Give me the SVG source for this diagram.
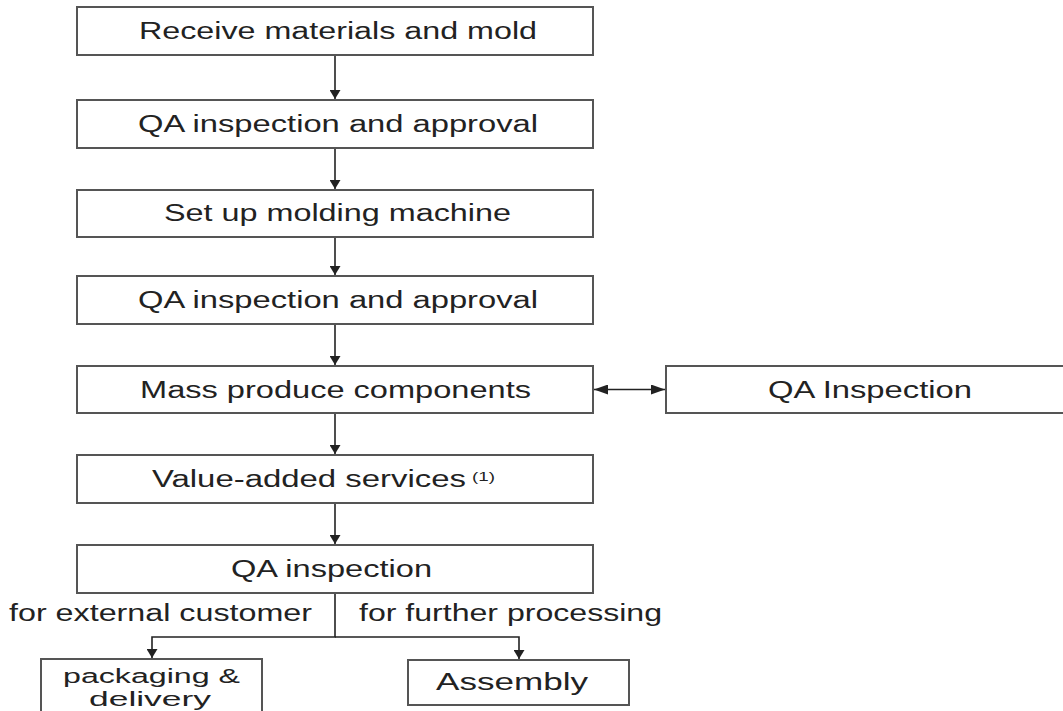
<svg xmlns="http://www.w3.org/2000/svg" width="1063" height="711" viewBox="0 0 1063 711">
  <style>
    .box { fill: #ffffff; stroke: #555555; stroke-width: 2; }
    .lbl { font-family: "Liberation Sans", Arial, Helvetica, sans-serif; font-size: 23px; fill: #222222; }
    .lbl2 { font-family: "Liberation Sans", Arial, Helvetica, sans-serif; font-size: 20px; fill: #222222; }
    .sup { font-family: "Liberation Sans", Arial, Helvetica, sans-serif; font-size: 13px; fill: #222222; }
    .conn { fill: none; stroke: #222222; stroke-width: 1.6; }
  </style>
  <defs>
    <marker id="av" markerUnits="userSpaceOnUse" markerWidth="9" markerHeight="11" refX="9" refY="5.5" orient="auto">
      <path d="M0,0 L9,5.5 L0,11 z" fill="#222222"/>
    </marker>
    <marker id="ah" markerUnits="userSpaceOnUse" markerWidth="14" markerHeight="10" refX="14" refY="5" orient="auto-start-reverse">
      <path d="M0,0 L14,5 L0,10 z" fill="#222222"/>
    </marker>
  </defs>
  <rect width="1063" height="711" fill="#ffffff"/>

  <g id="connectors">
    <line class="conn" x1="335" y1="55" x2="335" y2="99" marker-end="url(#av)"/>
    <line class="conn" x1="335" y1="148" x2="335" y2="189" marker-end="url(#av)"/>
    <line class="conn" x1="335" y1="237" x2="335" y2="275" marker-end="url(#av)"/>
    <line class="conn" x1="335" y1="324" x2="335" y2="365" marker-end="url(#av)"/>
    <line class="conn" x1="335" y1="413" x2="335" y2="454" marker-end="url(#av)"/>
    <line class="conn" x1="335" y1="503" x2="335" y2="544" marker-end="url(#av)"/>
    <line class="conn" x1="594" y1="389.5" x2="665" y2="389.5" marker-start="url(#ah)" marker-end="url(#ah)"/>
    <polyline class="conn" points="335,593 335,637 152,637 152,658" marker-end="url(#av)"/>
    <polyline class="conn" points="335,637 519,637 519,659" marker-end="url(#av)"/>
  </g>

  <g id="n1">
    <rect class="box" x="77" y="7" width="516" height="48"/>
    <text class="lbl" x="139" y="39" textLength="398" lengthAdjust="spacingAndGlyphs">Receive materials and mold</text>
  </g>
  <g id="n2">
    <rect class="box" x="77" y="100" width="516" height="48"/>
    <text class="lbl" x="138" y="132" textLength="400" lengthAdjust="spacingAndGlyphs">QA inspection and approval</text>
  </g>
  <g id="n3">
    <rect class="box" x="77" y="190" width="516" height="47"/>
    <text class="lbl" x="164" y="221" textLength="347" lengthAdjust="spacingAndGlyphs">Set up molding machine</text>
  </g>
  <g id="n4">
    <rect class="box" x="77" y="276" width="516" height="48"/>
    <text class="lbl" x="138" y="308" textLength="400" lengthAdjust="spacingAndGlyphs">QA inspection and approval</text>
  </g>
  <g id="n5">
    <rect class="box" x="77" y="366" width="516" height="47"/>
    <text class="lbl" x="140" y="398" textLength="391" lengthAdjust="spacingAndGlyphs">Mass produce components</text>
  </g>
  <g id="n5b">
    <rect class="box" x="666" y="366" width="410" height="47"/>
    <text class="lbl" x="768" y="398" textLength="204" lengthAdjust="spacingAndGlyphs">QA Inspection</text>
  </g>
  <g id="n6">
    <rect class="box" x="77" y="455" width="516" height="48"/>
    <text class="lbl" x="152" y="487" textLength="314" lengthAdjust="spacingAndGlyphs">Value-added services</text>
    <text class="sup" x="472" y="481" textLength="23" lengthAdjust="spacingAndGlyphs">(1)</text>
  </g>
  <g id="n7">
    <rect class="box" x="77" y="545" width="516" height="48"/>
    <text class="lbl" x="231" y="577" textLength="201" lengthAdjust="spacingAndGlyphs">QA inspection</text>
  </g>

  <g id="branch-labels">
    <text class="lbl" x="9" y="621" textLength="303" lengthAdjust="spacingAndGlyphs">for external customer</text>
    <text class="lbl" x="359" y="621" textLength="303" lengthAdjust="spacingAndGlyphs">for further processing</text>
  </g>

  <g id="n8">
    <rect class="box" x="41" y="659" width="221" height="70"/>
    <text class="lbl2" x="63" y="683" textLength="177" lengthAdjust="spacingAndGlyphs">packaging &amp;</text>
    <text class="lbl2" x="89" y="706" textLength="122" lengthAdjust="spacingAndGlyphs">delivery</text>
  </g>
  <g id="n9">
    <rect class="box" x="408" y="660" width="221" height="45"/>
    <text class="lbl" x="436" y="690" textLength="152" lengthAdjust="spacingAndGlyphs">Assembly</text>
  </g>
</svg>
